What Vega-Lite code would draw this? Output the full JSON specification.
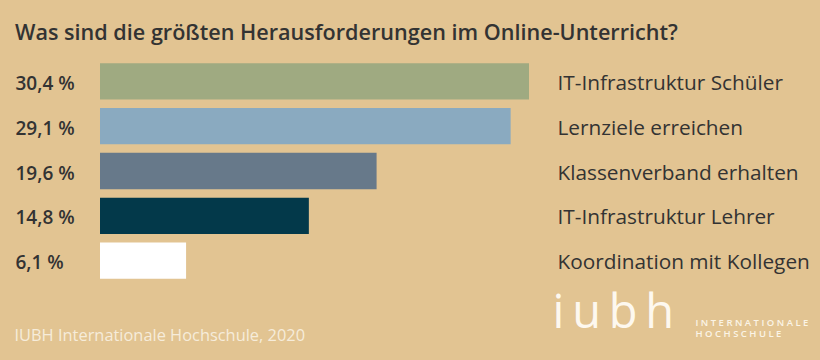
{
  "$schema": "https://vega.github.io/schema/vega-lite/v6.json",
  "autosize": {"type": "none"},
  "width": 440,
  "height": 224,
  "padding": {"left": 100, "top": 59, "right": 280, "bottom": 77},
  "background": "#e2c492",
  "config": {"view": {"stroke": null}, "font": "Open Sans"},
  "title": {
    "text": "Was sind die größten Herausforderungen im Online-Unterricht?",
    "anchor": "start",
    "frame": "group",
    "font": "Open Sans",
    "fontSize": 21.6,
    "fontWeight": 600,
    "color": "#333333",
    "baseline": "alphabetic",
    "dx": -85,
    "offset": -3
  },
  "data": {
    "values": [
      {"Kategorie": "IT-Infrastruktur Schüler", "Wert": 30.4, "Prozent": "30,4 %"},
      {"Kategorie": "Lernziele erreichen", "Wert": 29.1, "Prozent": "29,1 %"},
      {"Kategorie": "Klassenverband erhalten", "Wert": 19.6, "Prozent": "19,6 %"},
      {"Kategorie": "IT-Infrastruktur Lehrer", "Wert": 14.8, "Prozent": "14,8 %"},
      {"Kategorie": "Koordination mit Kollegen", "Wert": 6.1, "Prozent": "6,1 %"}
    ]
  },
  "encoding": {
    "x": {
      "field": "Wert",
      "type": "quantitative",
      "scale": {"domain": [0, 31.18], "nice": false, "zero": true},
      "axis": {
        "domain": false, "labels": false, "ticks": false, "grid": false,
        "title": "IUBH Internationale Hochschule, 2020",
        "titleFont": "Open Sans", "titleFontSize": 16.4, "titleFontWeight": "normal",
        "titleColor": "#f6ecda",
        "titleX": -86, "titleY": 57, "titleAlign": "left", "titleBaseline": "alphabetic"
      }
    }
  },
  "layer": [
    {
      "mark": {"type": "bar"},
      "encoding": {
        "y": {
          "field": "Kategorie",
          "type": "nominal",
          "sort": null,
          "scale": {"paddingInner": 0.19, "paddingOuter": 0.095},
          "axis": {
            "orient": "right",
            "domain": false, "ticks": false, "tickSize": 0, "grid": false,
            "labelAlign": "left", "labelPadding": 17,
            "labelFont": "Open Sans", "labelFontSize": 20.8, "labelColor": "#333333",
            "labelBaseline": "middle", "labelLimit": 300, "labelOffset": 2.5,
            "title": ["I N T E R N A T I O N A L E", "H O C H S C H U L E"],
            "titleAngle": 0, "titleX": 155, "titleY": 266,
            "titleAlign": "left", "titleBaseline": "alphabetic",
            "titleFont": "Open Sans", "titleFontSize": 9.5, "titleFontWeight": 600,
            "titleLineHeight": 11.5, "titleColor": "#fbf4e6"
          }
        },
        "color": {
          "field": "Kategorie",
          "type": "nominal",
          "scale": {
            "domain": ["IT-Infrastruktur Schüler", "Lernziele erreichen", "Klassenverband erhalten", "IT-Infrastruktur Lehrer", "Koordination mit Kollegen"],
            "range": ["#9faa81", "#8aaac0", "#67798a", "#03394a", "#ffffff"]
          },
          "legend": null
        }
      }
    },
    {
      "mark": {"type": "bar", "opacity": 0},
      "encoding": {
        "y": {
          "field": "Prozent",
          "type": "nominal",
          "sort": null,
          "scale": {"paddingInner": 0.19, "paddingOuter": 0.095},
          "axis": {
            "orient": "left",
            "domain": false, "ticks": false, "tickSize": 0, "grid": false,
            "labelAlign": "left", "labelPadding": 85,
            "labelFont": "Open Sans", "labelFontSize": 19, "labelFontWeight": 600, "labelColor": "#333333",
            "labelBaseline": "middle", "labelOffset": 2.5,
            "title": "i\u2009u\u2009b\u2009h",
            "titleAngle": 0, "titleX": 452, "titleY": 268,
            "titleAlign": "left", "titleBaseline": "alphabetic",
            "titleFont": "Open Sans", "titleFontSize": 47, "titleFontWeight": 400,
            "titleColor": "#fdf8ef"
          }
        }
      }
    }
  ],
  "resolve": {"scale": {"y": "independent"}}
}
